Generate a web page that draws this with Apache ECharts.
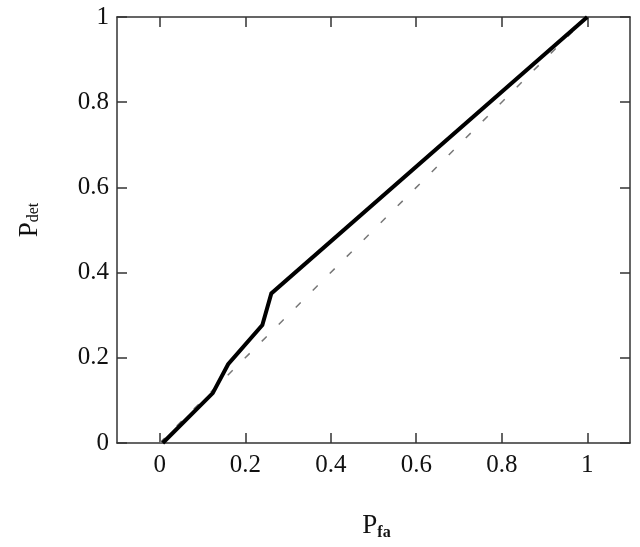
<!DOCTYPE html>
<html>
<head>
<meta charset="utf-8">
<script src="https://cdn.jsdelivr.net/npm/echarts@6/dist/echarts.min.js"></script>
<style>
  html, body { margin: 0; padding: 0; background: #fff; }
  #chart { width: 640px; height: 547px; }
</style>
</head>
<body>
<div id="chart"></div>
<script>
// ROC curve
const pfa = [0.007, 0.124, 0.16, 0.24, 0.261, 1];
const pdet = [0, 0.117, 0.185, 0.277, 0.351, 1];
// chance diagonal
const chanceX = [0, 1];
const chanceY = [0, 1];
const tickValues = [0, 0.2, 0.4, 0.6, 0.8, 1];

const font = "'Liberation Serif', 'Times New Roman', serif";
const ink = '#333';
const zip = (a, b) => a.map((v, i) => [v, b[i]]);

const xBase = {
  type: 'value', min: -0.1, max: 1.1,
  axisLine: { onZero: false, lineStyle: { color: ink, width: 1.5 } },
  axisTick: { inside: true, length: 10, customValues: tickValues, lineStyle: { color: ink, width: 1.5 } },
  splitLine: { show: false }
};
const yBase = {
  type: 'value', min: 0, max: 1, interval: 0.2,
  axisLine: { onZero: false, lineStyle: { color: ink, width: 1.5 } },
  axisTick: { inside: true, length: 10, lineStyle: { color: ink, width: 1.5 } },
  splitLine: { show: false }
};

const chart = echarts.init(document.getElementById('chart'), null, { renderer: 'canvas' });
chart.setOption({
  animation: false,
  backgroundColor: '#fff',
  grid: { left: 117, right: 10, top: 17, bottom: 104, containLabel: false, outerBoundsMode: 'none' },
  xAxis: [
    Object.assign({}, xBase, {
      position: 'bottom',
      axisLabel: { customValues: tickValues, margin: 10, color: '#111', fontFamily: font, fontSize: 25 },
      name: '{p|P}{s|fa}', nameLocation: 'middle', nameGap: 68,
      nameTextStyle: { padding: [0, 0, 0, 6], rich: {
        p: { fontFamily: font, fontSize: 27, color: '#111' },
        s: { fontFamily: font, fontSize: 16, fontWeight: 'bold', color: '#111', padding: [14, 0, 0, 0] }
      } }
    }),
    Object.assign({}, xBase, { position: 'top', axisLabel: { show: false } })
  ],
  yAxis: [
    Object.assign({}, yBase, {
      position: 'left',
      axisLabel: { margin: 8, color: '#111', fontFamily: font, fontSize: 25 },
      name: '{p|P}{s|det}', nameLocation: 'middle', nameGap: 74, nameRotate: 90,
      nameTextStyle: { padding: [0, 0, 0, 20], rich: {
        p: { fontFamily: font, fontSize: 27, color: '#111' },
        s: { fontFamily: font, fontSize: 16, color: '#111', padding: [8, 0, 0, 0] }
      } }
    }),
    Object.assign({}, yBase, { position: 'right', axisLabel: { show: false } })
  ],
  series: [
    {
      type: 'line', data: zip(chanceX, chanceY), symbol: 'none', z: 1,
      lineStyle: { color: '#777', width: 1.5, type: [7, 17] }
    },
    {
      type: 'line', data: zip(pfa, pdet), symbol: 'none', z: 2,
      lineStyle: { color: '#000', width: 4, join: 'miter' }
    }
  ]
});
</script>
</body>
</html>
